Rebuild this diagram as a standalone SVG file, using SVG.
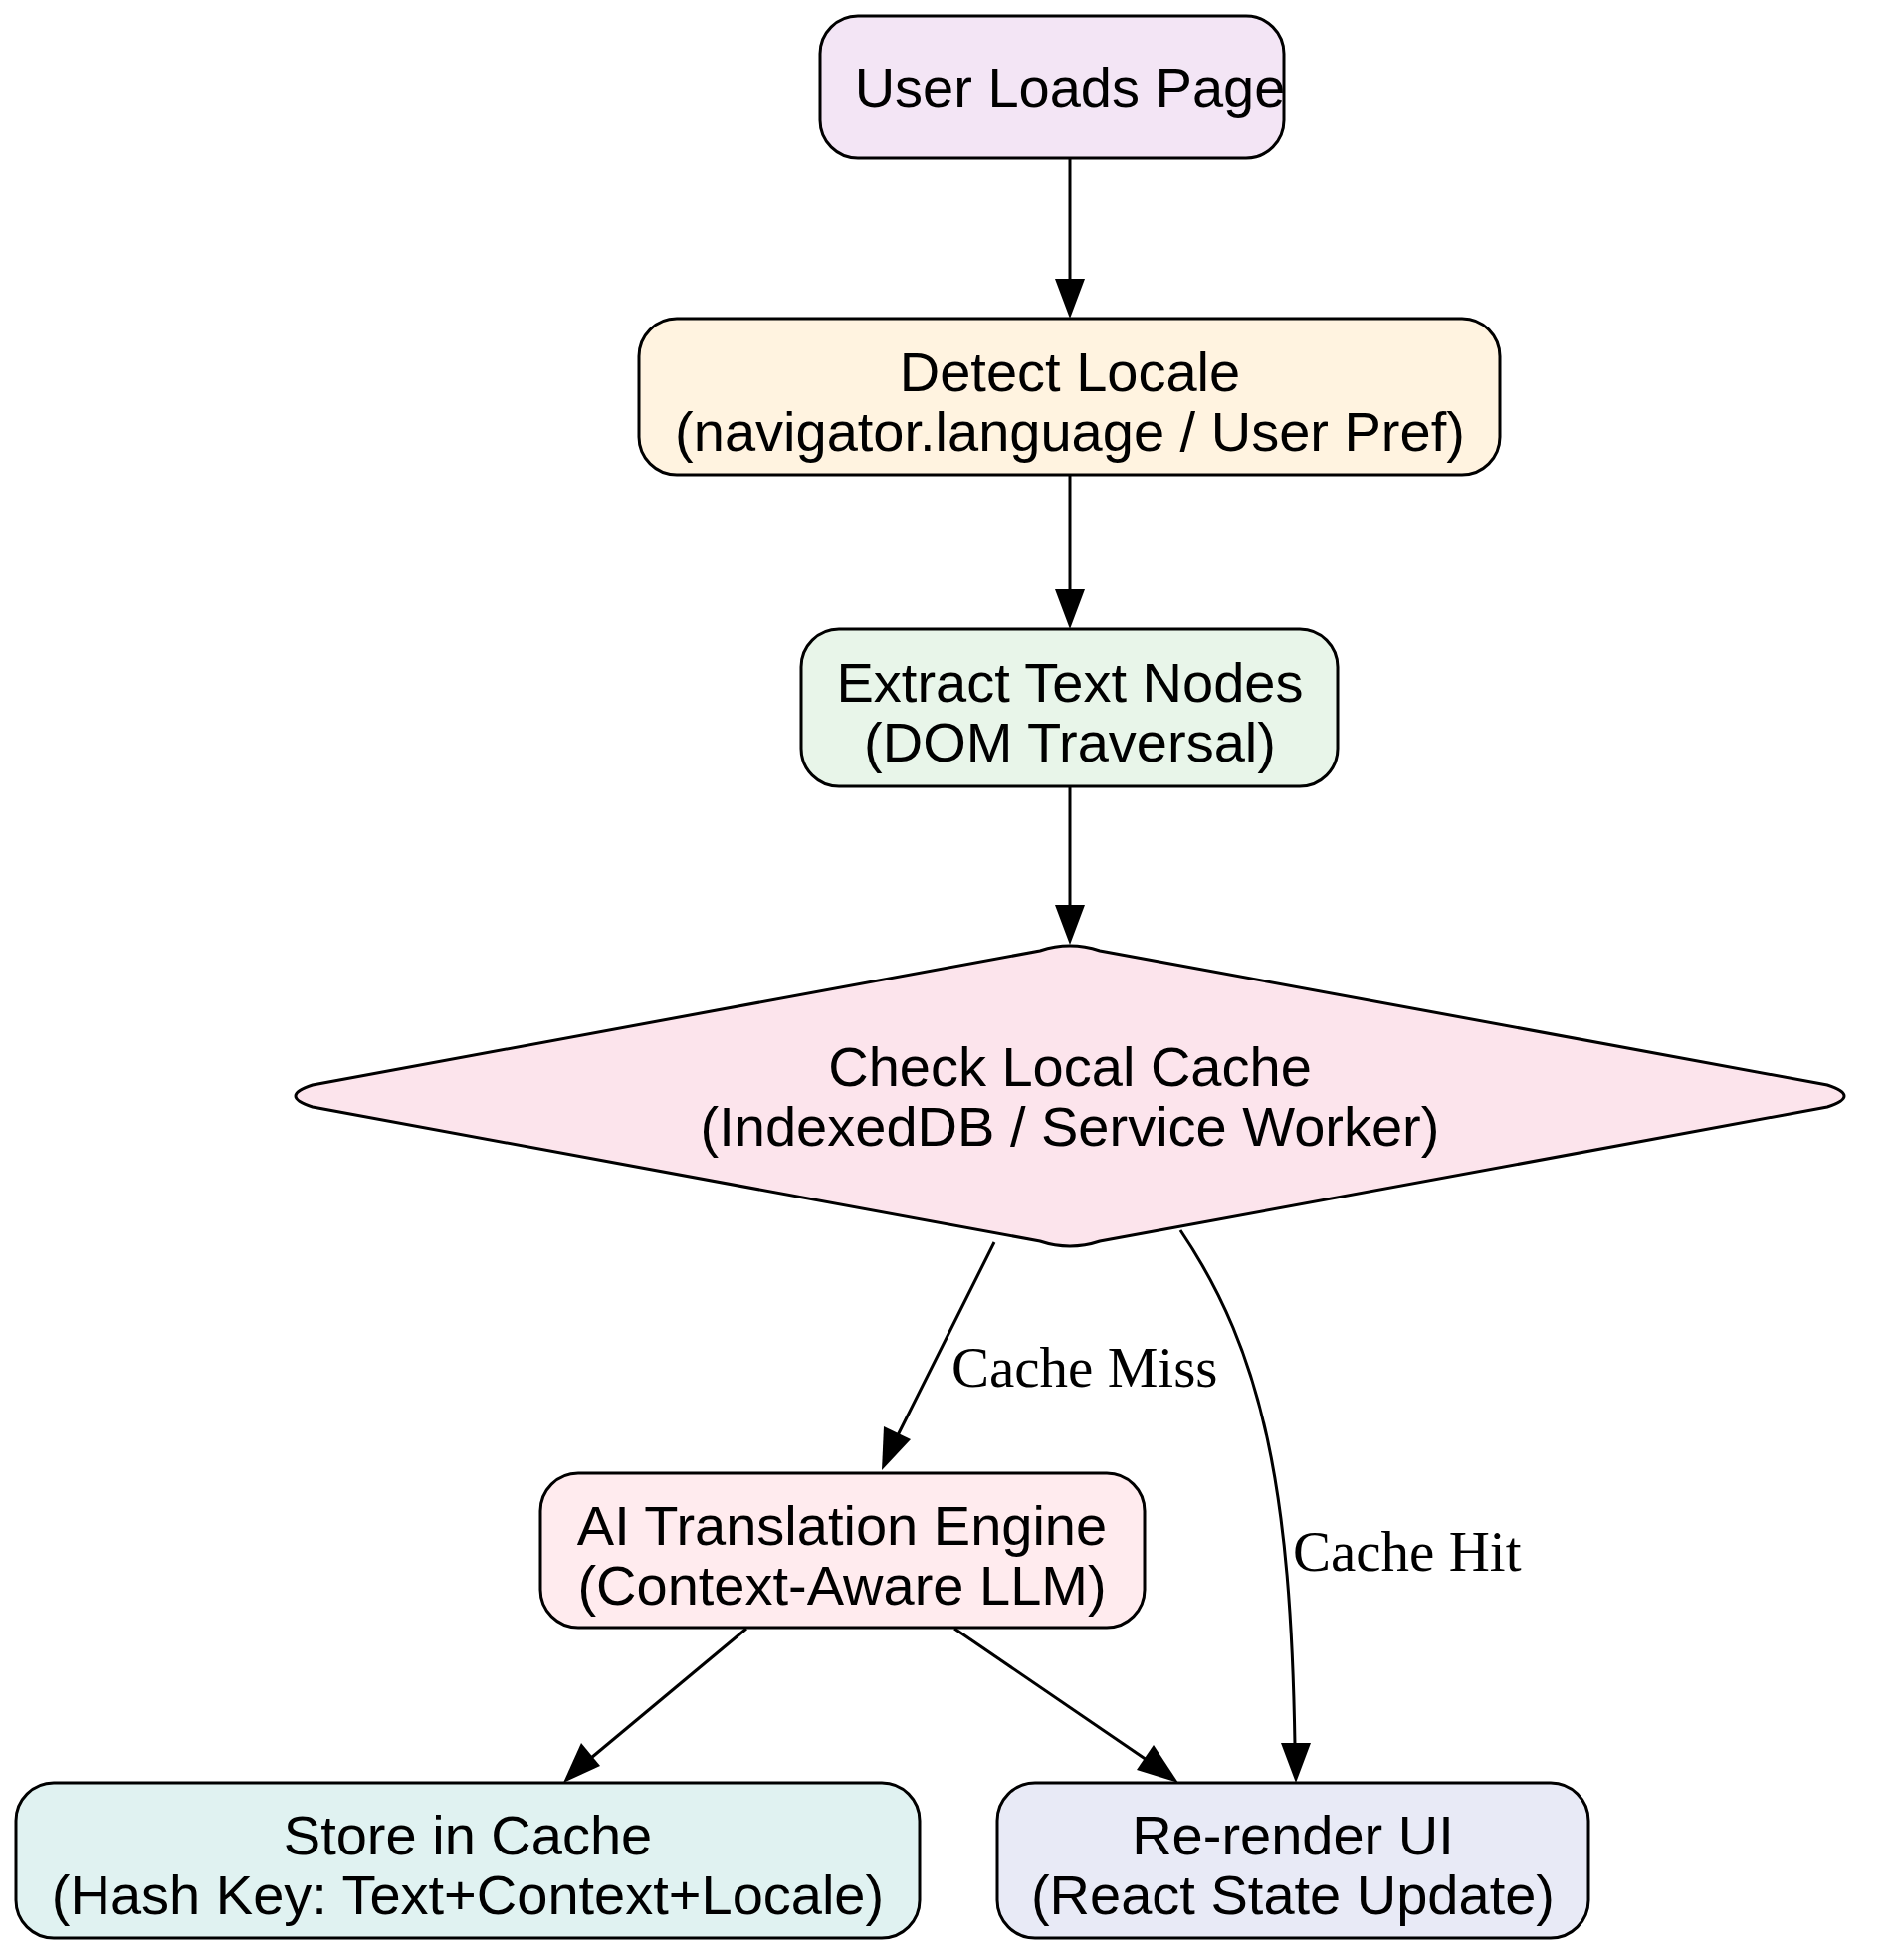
<svg xmlns="http://www.w3.org/2000/svg" width="1906" height="1969" viewBox="0 0 1906 1969">
<style>
.n{stroke:#000;stroke-width:3}
.t{font-family:"Liberation Sans",Arial,sans-serif;font-size:56px;text-anchor:middle;fill:#000}
.l{font-family:"Liberation Serif","Times New Roman",serif;font-size:57px;fill:#000}
.e{fill:none;stroke:#000;stroke-width:3}
</style>
<rect width="1906" height="1969" fill="#fff"/>
<g id="edges">
<path class="e" d="M1075,159V282"/><path d="M1075,320l-15,-40h30z"/>
<path class="e" d="M1075,477V594"/><path d="M1075,632l-15,-40h30z"/>
<path class="e" d="M1075,790V911"/><path d="M1075,949l-15,-40h30z"/>
<path class="e" d="M999,1248L902,1442"/><path d="M886,1477l2,-44l27,13z"/>
<text class="l" x="956" y="1393">Cache Miss</text>
<path class="e" d="M1186,1236C1270,1360 1297,1500 1301,1753"/><path d="M1302,1791l-15,-40h30z"/>
<text class="l" x="1299" y="1578">Cache Hit</text>
<path class="e" d="M750,1636L594,1766"/><path d="M566,1791l18,-40l19,23z"/>
<path class="e" d="M959,1636L1152,1768"/><path d="M1184,1791l-42,-13l17,-25z"/>
</g>
<g id="n1"><rect class="n" x="824" y="16" width="466" height="143" rx="38" fill="#F3E5F5"/><text class="t" x="1075" y="107">User Loads Page</text></g>
<g id="n2"><rect class="n" x="642" y="320" width="865" height="157" rx="38" fill="#FFF3E0"/><text class="t" x="1075" y="393">Detect Locale</text><text class="t" x="1075" y="453">(navigator.language / User Pref)</text></g>
<g id="n3"><rect class="n" x="805" y="632" width="539" height="158" rx="38" fill="#E8F5E9"/><text class="t" x="1075" y="705">Extract Text Nodes</text><text class="t" x="1075" y="765">(DOM Traversal)</text></g>
<g id="n4"><path class="n" d="M1045,955Q1075,945 1105,955L1836,1090Q1870,1101 1836,1112L1105,1247Q1075,1257 1045,1247L314,1112Q280,1101 314,1090Z" fill="#FCE4EC"/><text class="t" x="1075" y="1091">Check Local Cache</text><text class="t" x="1075" y="1151">(IndexedDB / Service Worker)</text></g>
<g id="n5"><rect class="n" x="543" y="1480" width="607" height="155" rx="38" fill="#FFEBEE"/><text class="t" x="846" y="1552">AI Translation Engine</text><text class="t" x="846" y="1612">(Context-Aware LLM)</text></g>
<g id="n6"><rect class="n" x="16" y="1791" width="908" height="156" rx="38" fill="#E0F2F1"/><text class="t" x="470" y="1863">Store in Cache</text><text class="t" x="470" y="1923">(Hash Key: Text+Context+Locale)</text></g>
<g id="n7"><rect class="n" x="1002" y="1791" width="594" height="156" rx="38" fill="#E8EAF6"/><text class="t" x="1299" y="1863">Re-render UI</text><text class="t" x="1299" y="1923">(React State Update)</text></g>
</svg>
